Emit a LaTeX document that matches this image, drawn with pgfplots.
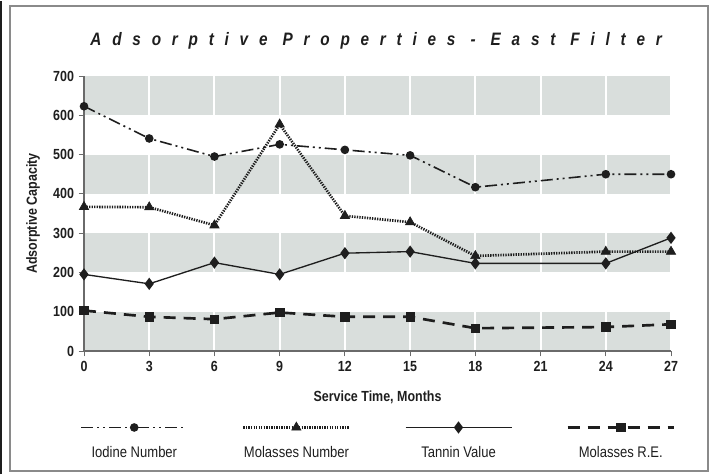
\documentclass[border=0pt]{standalone}
\usepackage{pgfplots}
\pgfplotsset{compat=1.18}
\usepackage{fontspec}
\setmainfont{Liberation Sans}[FakeStretch=0.85]
\newfontfamily\titlefont{Liberation Sans Bold Italic}[FakeStretch=0.85, LetterSpace=60]
\definecolor{band}{HTML}{D9DEDC}
\definecolor{ink}{HTML}{1E1E1E}
\definecolor{axisgray}{HTML}{6A6A6A}
\definecolor{framegray}{HTML}{8A8A8A}
\begin{document}
\begin{tikzpicture}
\path (-63pt,-92.25pt) rectangle (471pt,262.5pt);
\draw[framegray, line width=1pt] (-55.5pt,-90pt) rectangle (468pt,258.75pt);
\draw[ink, line width=1.5pt] (-62pt,-92.25pt) -- (-62pt,262.5pt);
\begin{axis}[
  set layers,
  scale only axis, width=440.25pt, height=206.25pt,
  xmin=0, xmax=27, ymin=0, ymax=700,
  xtick={0,3,...,27}, ytick={0,100,...,700},
  axis lines=left, axis line style={-, axisgray, line width=0.8pt},
  tick style={axisgray, line width=0.6pt}, tick align=outside, major tick length=4pt,
  xmajorgrids, major grid style={white, line width=1.5pt},
  clip=false,
  /pgf/number format/assume math mode=true,
  ticklabel style={font=\bfseries\fontsize{11}{13}\selectfont, text=ink},
  title={{\titlefont Adsorptive Properties - East Filter}},
  title style={at={(axis description cs:0.5,1)}, anchor=base, yshift=17pt, xshift=-1pt, font=\fontsize{13.5}{16}\selectfont, text=ink},
  xlabel={Service Time, Months},
  xlabel style={at={(axis description cs:0.5,0)}, anchor=base, yshift=-37.5pt, font=\bfseries\fontsize{11}{13}\selectfont, text=ink},
  ylabel={Adsorptive Capacity},
  ylabel style={at={(axis description cs:-0.0869,0.5)}, anchor=center, font=\bfseries\fontsize{11}{13}\selectfont, text=ink},
  legend columns=4,
  legend style={at={(axis description cs:0.5,-0.3345)}, anchor=north, draw=none, fill=none,
    font=\fontsize{11.5}{13}\selectfont, text=ink,
    nodes={inner sep=0pt},
    /tikz/every even column/.append style={column sep=21.5pt},
    /tikz/every odd column/.append style={column sep=0pt}},
  legend image code/.code={\pgfpathrectangle{\pgfpointorigin}{\pgfpoint{0.1pt}{0.1pt}}\pgfusepath{}\draw[overlay,mark repeat=2,mark phase=2,#1] plot coordinates {(10.25pt,18.75pt) (50pt,18.75pt) (89.75pt,18.75pt)};},
]
\begin{pgfonlayer}{axis background}
\fill[band] (axis cs:0,0) rectangle (axis cs:27,100);
\fill[band] (axis cs:0,200) rectangle (axis cs:27,300);
\fill[band] (axis cs:0,400) rectangle (axis cs:27,500);
\fill[band] (axis cs:0,600) rectangle (axis cs:27,700);
\end{pgfonlayer}
\addplot[ink, line width=1.2pt, dash pattern=on 9pt off 3pt on 1.5pt off 3pt on 1.5pt off 3pt, mark=*, mark size=2.6pt, mark options={solid}]
  coordinates {(0,623)(3,541)(6,495)(9,526)(12,512)(15,498)(18,417)(24,450)(27,450)};
\addlegendentry{\makebox[100pt][c]{Iodine Number}}
\addplot[ink, line width=2pt, dash pattern=on 1pt off 0.9pt, mark=triangle*, mark size=4pt, mark options={solid, line width=0.5pt}]
  coordinates {(0,367)(3,366)(6,320)(9,577)(12,344)(15,328)(18,242)(24,253)(27,253)};
\addlegendentry{\makebox[100pt][c]{Molasses Number}}
\addplot[ink, line width=1pt, mark=diamond*, mark size=3.8pt, mark options={solid}]
  coordinates {(0,195)(3,171)(6,225)(9,195)(12,249)(15,253)(18,223)(24,223)(27,288)};
\addlegendentry{\makebox[100pt][c]{Tannin Value}}
\addplot[ink, line width=2pt, dash pattern=on 9pt off 6pt, mark=square*, mark size=3.2pt, mark options={solid, line width=0.5pt}]
  coordinates {(0,103)(3,87)(6,81)(9,98)(12,87)(15,87)(18,58)(24,61)(27,68)};
\addlegendentry{\makebox[100pt][c]{Molasses R.E.}}
\end{axis}
\end{tikzpicture}
\end{document}
